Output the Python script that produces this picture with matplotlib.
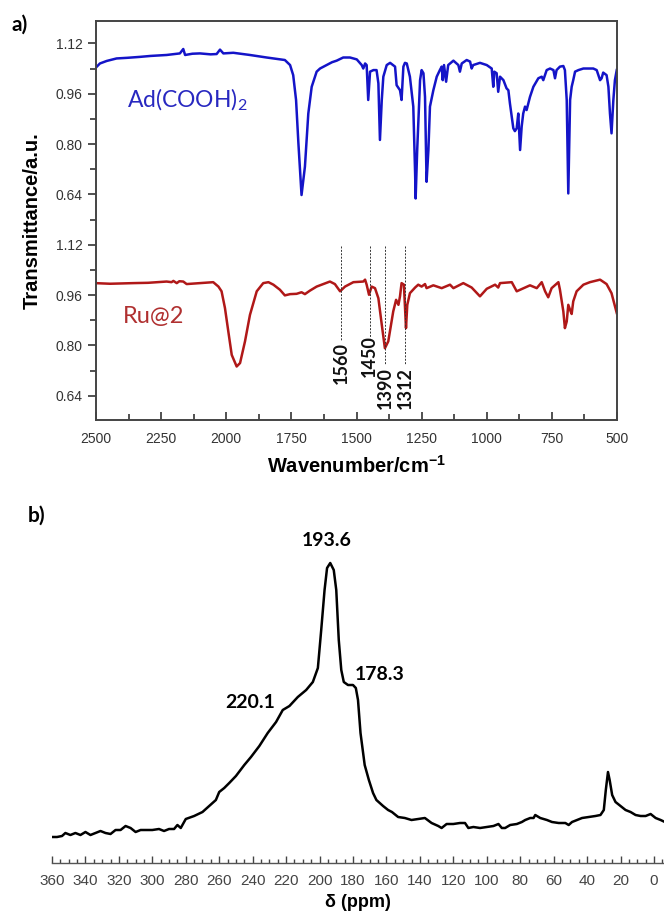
import numpy as np
import matplotlib.pyplot as plt
from matplotlib.ticker import MultipleLocator, FixedLocator

plt.rcParams['font.family'] = ['Liberation Sans', 'DejaVu Sans']
plt.rcParams['mathtext.fontset'] = 'custom'
plt.rcParams['mathtext.rm'] = 'Lato'
plt.rcParams['mathtext.bf'] = 'Liberation Sans:bold'

# ---- a) IR spectra ----
wn_ad = [2504, 2485, 2459, 2421, 2380, 2331, 2290, 2229, 2200, 2178, 2165, 2158, 2130, 2101,
         2060, 2037, 2024, 2011, 1973, 1909, 1845, 1775, 1755, 1743, 1732, 1723, 1711, 1698,
         1685, 1672, 1653, 1640, 1615, 1594, 1576, 1551, 1525, 1499, 1480, 1474, 1467, 1461,
         1455, 1448, 1435, 1423, 1416, 1410, 1403, 1397, 1384, 1371, 1352, 1346, 1333, 1327,
         1320, 1314, 1307, 1295, 1282, 1275, 1273, 1267, 1256, 1250, 1243, 1237, 1231, 1224,
         1218, 1205, 1192, 1180, 1173, 1169, 1164, 1156, 1148, 1128, 1109, 1103, 1096, 1077,
         1064, 1058, 1052, 1026, 1000, 981, 975, 971, 962, 956, 949, 936, 924, 917, 911, 898,
         892, 885, 879, 872, 866, 860, 853, 847, 834, 821, 802, 789, 783, 770, 757, 744, 738,
         732, 719, 706, 700, 693, 687, 680, 674, 668, 661, 648, 629, 591, 578, 565, 559, 553,
         540, 533, 527, 521, 514, 508, 501]
tr_ad = [1.040, 1.056, 1.064, 1.072, 1.074, 1.077, 1.080, 1.083, 1.086, 1.088, 1.102, 1.083, 1.087, 1.088,
         1.085, 1.086, 1.100, 1.088, 1.090, 1.083, 1.075, 1.067, 1.051, 1.019, 0.940, 0.802, 0.638, 0.728,
         0.897, 0.982, 1.030, 1.040, 1.051, 1.060, 1.065, 1.075, 1.075, 1.069, 1.051, 1.040, 1.056, 1.051,
         0.940, 1.030, 1.035, 1.035, 0.993, 0.813, 0.940, 1.014, 1.051, 1.058, 1.046, 0.987, 0.971, 0.940,
         1.046, 1.058, 1.056, 1.014, 0.919, 0.707, 0.627, 0.781, 1.003, 1.035, 1.025, 0.950, 0.680, 0.781,
         0.919, 0.971, 1.014, 1.035, 1.046, 1.003, 1.051, 0.998, 1.051, 1.065, 1.051, 1.030, 1.056, 1.067,
         1.062, 1.040, 1.051, 1.058, 1.051, 1.040, 0.982, 1.030, 1.025, 0.966, 1.014, 1.003, 0.977, 0.971, 0.929, 0.850,
         0.841, 0.850, 0.897, 0.781, 0.855, 0.897, 0.919, 0.908, 0.950, 0.982, 1.009, 1.014, 1.003, 1.035, 1.040, 1.035, 1.009,
         1.035, 1.046, 1.048, 1.035, 0.940, 0.643, 0.940, 0.982, 1.003, 1.030, 1.035, 1.040, 1.040, 1.035, 1.003, 1.009, 1.027,
         1.019, 0.982, 0.897, 0.834, 0.940, 1.003, 1.035]

wn_ru = [2504, 2446, 2400, 2357, 2300, 2229, 2210, 2203, 2190, 2180, 2165, 2152, 2101, 2050,
         2030, 2018, 2005, 1992, 1979, 1960, 1947, 1928, 1909, 1883, 1858, 1838, 1819, 1794,
         1775, 1755, 1730, 1711, 1698, 1679, 1653, 1602, 1583, 1563, 1544, 1512, 1474, 1467,
         1461, 1452, 1442, 1429, 1416, 1403, 1391, 1378, 1359, 1348, 1339, 1333, 1327, 1318,
         1310, 1305, 1295, 1275, 1263, 1250, 1237, 1231, 1205, 1173, 1141, 1128, 1090, 1058,
         1026, 1000, 968, 956, 949, 904, 885, 834, 808, 789, 776, 764, 751, 725, 719, 706,
         700, 693, 687, 678, 674, 668, 655, 629, 604, 565, 540, 521, 501]
tr_ru = [0.998, 0.996, 0.997, 0.998, 0.999, 1.003, 1.001, 1.005, 0.998, 1.004, 1.003, 0.995, 0.998, 1.001,
         0.987, 0.972, 0.919, 0.844, 0.770, 0.733, 0.744, 0.813, 0.897, 0.972, 0.998, 1.001, 0.993, 0.977,
         0.959, 0.963, 0.964, 0.969, 0.963, 0.974, 0.987, 1.003, 0.995, 0.972, 0.987, 1.001, 1.003, 1.009,
         0.993, 0.961, 0.987, 0.982, 0.950, 0.866, 0.791, 0.813, 0.908, 0.945, 0.929, 0.956, 0.998, 0.993,
         0.855, 0.929, 0.966, 0.984, 0.993, 0.987, 0.995, 0.982, 0.991, 0.982, 0.993, 0.982, 0.998, 0.984,
         0.956, 0.980, 0.993, 0.984, 0.998, 1.001, 0.972, 0.991, 0.982, 1.001, 0.972, 0.953, 0.982, 1.001, 0.977, 0.908,
         0.855, 0.876, 0.929, 0.908, 0.900, 0.940, 0.972, 0.993, 1.001, 1.009, 0.995, 0.966, 0.903]

offset = 0.64
peaks_wn = [1560, 1450, 1390, 1312]
peaks_txt = ['1560', '1450', '1390', '1312']
line_bottom = [0.813, 0.823, 0.739, 0.739]
label_y = [0.743, 0.765, 0.666, 0.666]

ytick_pos = [0.64, 0.80, 0.96, 1.12, 1.28, 1.44, 1.60, 1.76]
ytick_lab = ['0.64', '0.80', '0.96', '1.12', '0.64', '0.80', '0.96', '1.12']

# ---- b) 13C NMR ----
ppm = [360, 357, 354, 352, 349, 346, 343, 340, 337, 334, 331, 328, 325, 322, 319, 316, 313, 310,
       307, 304, 300, 296, 293, 290, 287, 285, 283, 280, 275, 270, 266, 262, 260, 257, 254, 250,
       245, 241, 236, 231, 226, 222, 218, 213, 208, 204, 201, 199, 197, 195.5, 193.6, 191.5, 190,
       188.5, 187, 185.5, 183, 180, 178.3, 177, 175.5, 173, 170.5, 168, 166, 162, 159, 156.7, 153,
       149, 145, 141, 137, 133, 129, 127, 124, 120, 116, 113, 111, 108, 104, 100, 96, 93, 91, 89,
       86, 82, 79, 77, 74, 72, 71, 68, 64, 61, 57, 53, 51, 49, 46, 43, 39, 35, 32, 30, 28.8, 27.5,
       26.5, 25, 23, 20, 17, 14, 11, 8, 5, 2, -1, -4, -6.5]
inten = [33, 33, 34, 37, 35, 37, 35, 38, 35, 37, 39, 37, 36, 40, 40, 44, 42, 38,
         40, 40, 40, 41, 39, 41, 41, 45, 42, 51, 54, 58, 64, 70, 78, 82, 87, 94,
         105, 113, 124, 137, 148, 160, 164, 173, 180, 188, 202, 240, 280, 302, 307, 300, 280,
         230, 200, 188, 185, 185, 182, 170, 137, 105, 90, 77, 70, 64, 60, 58, 53,
         52, 50, 51, 52, 47, 44, 42, 46, 46, 47, 47, 42, 43, 42, 43, 44, 46, 42, 42,
         45, 46, 48, 50, 52, 52, 55, 52, 50, 48, 47, 47, 45, 48, 50, 52, 53, 54, 55, 60, 80, 98,
         90, 75, 68, 64, 60, 58, 55, 54, 54, 56, 52, 50, 48]
nmr_labels = ['193.6', '178.3', '220.1']
nmr_lab_x = [195.5, 163.8, 241.6]
nmr_lab_y = [329, 195, 168]

W, H = 664, 918
fig = plt.figure(figsize=(W / 100, H / 100), dpi=100)

ax = fig.add_axes([96 / W, 1 - 420 / H, 521 / W, 399 / H])
ax.plot(wn_ad, np.array(tr_ad) + offset, color='#1414c8', lw=1.8)
ax.plot(wn_ru, tr_ru, color='#b01818', lw=1.8)
ax.set_xlim(2500, 500)
ax.set_ylim(0.563, 1.831)
ax.xaxis.set_major_locator(MultipleLocator(250))
ax.xaxis.set_minor_locator(MultipleLocator(125))
ax.yaxis.set_major_locator(FixedLocator(ytick_pos))
ax.set_yticklabels(ytick_lab)
ax.yaxis.set_minor_locator(MultipleLocator(0.08))
ax.tick_params(axis='x', which='both', direction='in', labelsize=10, pad=9, colors='#333333')
ax.tick_params(axis='x', which='major', length=6, width=1.2)
ax.tick_params(axis='x', which='minor', length=4, width=1.2)
ax.tick_params(axis='y', which='both', direction='out', labelsize=10, colors='#333333')
ax.tick_params(axis='y', which='major', length=6, width=1.2)
ax.tick_params(axis='y', which='minor', length=4, width=1.2)
for s in ax.spines.values():
    s.set_color('#444444')
    s.set_linewidth(1.4)
ax.set_xlabel('Wavenumber/cm$^{\\mathbf{-1}}$', fontsize=14.5, fontweight='bold', labelpad=6)
ax.set_ylabel('Transmittance/a.u.', fontsize=14.5, fontweight='bold', labelpad=10)

for w, yb, t, yl in zip(peaks_wn, line_bottom, peaks_txt, label_y):
    ax.plot([w, w], [1.115, yb], color='#333333', lw=0.7, ls=(0, (2, 1.5)))
    ax.text(w, yl, t, rotation=90, ha='center', va='center', fontsize=13,
            fontweight='bold', family='Lato', color='#111111')

ax.text(2381, 1.58, 'Ad(COOH)$_\\mathregular{2}$', fontsize=16.5, family='Lato',
        color='#2828c0', va='center', ha='left')
ax.text(2396, 0.892, 'Ru@2', fontsize=17, family='Lato', color='#b03030',
        va='center', ha='left')

fig.text(12 / W, 1 - 15 / H, 'a)', fontsize=15, fontweight='bold', family='Lato', va='top')
fig.text(28 / W, 1 - 506 / H, 'b)', fontsize=15, fontweight='bold', family='Lato', va='top')

bx = fig.add_axes([52 / W, 1 - 863 / H, 612 / W, 333 / H])
bx.plot(ppm, inten, color='black', lw=1.8)
bx.set_xlim(360, -6)
bx.set_ylim(7, 340)
bx.xaxis.set_major_locator(MultipleLocator(20))
bx.xaxis.set_minor_locator(MultipleLocator(5))
bx.set_yticks([])
for k in ['left', 'right', 'top']:
    bx.spines[k].set_visible(False)
bx.spines['bottom'].set_color('#555555')
bx.spines['bottom'].set_linewidth(1.0)
bx.tick_params(axis='x', which='both', direction='in', labelsize=11, colors='#444444', pad=8)
bx.tick_params(axis='x', which='major', length=5, width=1)
bx.tick_params(axis='x', which='minor', length=3, width=1)
bx.set_xlabel('δ (ppm)', fontsize=13, fontweight='bold', labelpad=4)
for t, x, y in zip(nmr_labels, nmr_lab_x, nmr_lab_y):
    bx.text(x, y, t, ha='center', va='center', fontsize=14, fontweight='bold', family='Lato')

fig.savefig('out.png', dpi=100)
